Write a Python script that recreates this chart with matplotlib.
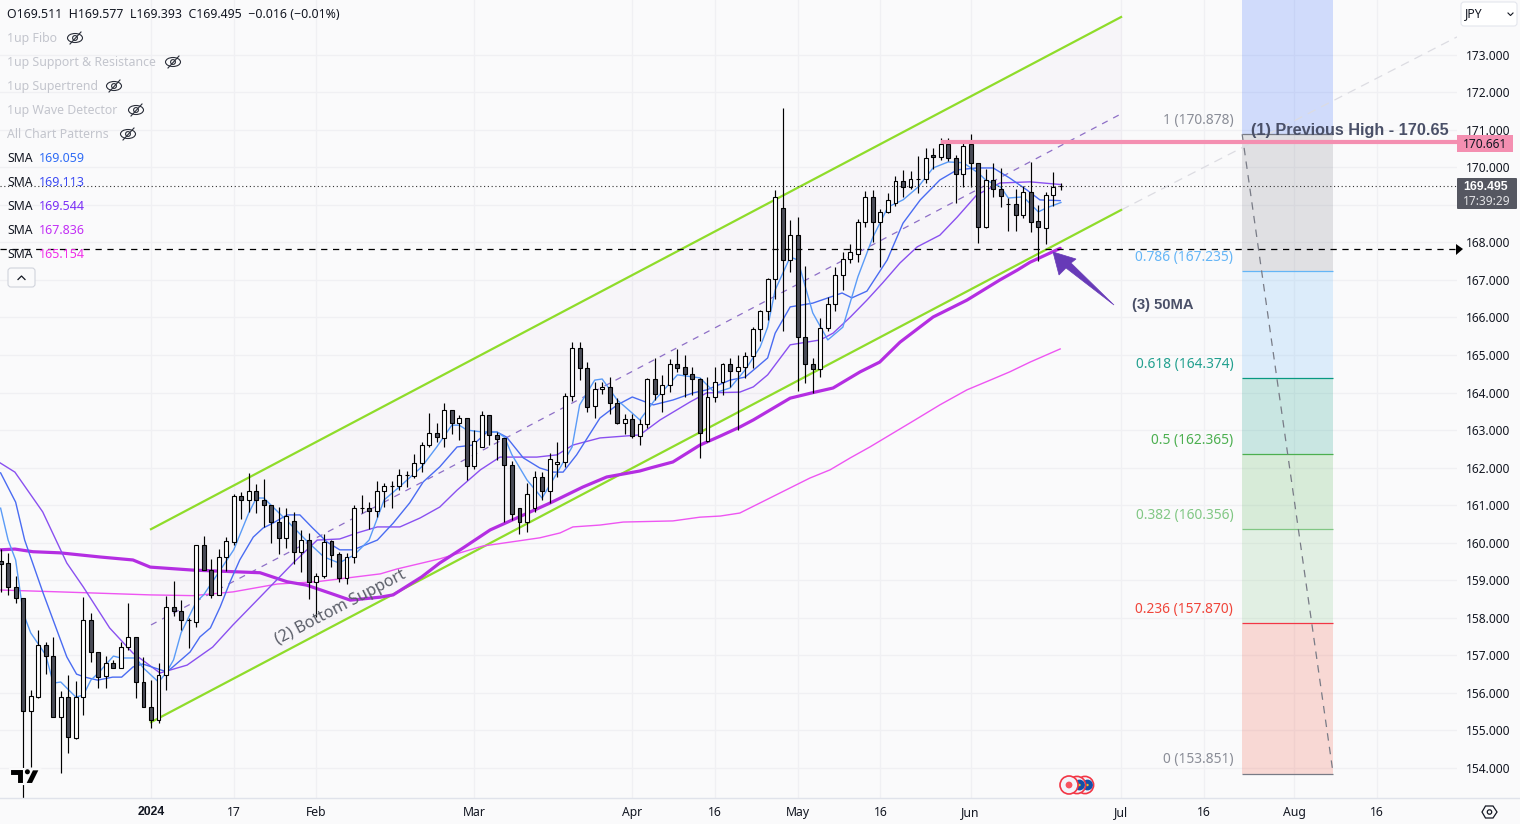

import matplotlib
matplotlib.use("Agg")
import matplotlib.pyplot as plt
from matplotlib.patches import Polygon, Circle, Ellipse, FancyBboxPatch, Rectangle

plt.rcParams['font.family'] = ['Noto Sans', 'DejaVu Sans']

# candles, first bar is 20 bars before 1 Jan 2024
bar_start = -20
opens = [159.51, 159.45, 158.83, 158.52, 155.53, 155.9, 157.27, 156.97, 155.35, 155.9,
         154.8, 155.9, 157.93, 157.08, 156.44, 156.79, 156.66, 157.21, 157.48, 156.3,
         155.62, 155.29, 156.48, 158.28, 158.19, 157.93, 157.9, 159.93, 159.28, 158.6,
         159.61, 160.03, 161.24, 161.13, 161.37, 161.15, 161.0, 160.54, 160.13, 160.57,
         159.75, 160.06, 158.95, 159.1, 160.04, 159.69, 159.07, 159.61, 160.92, 160.92,
         160.85, 161.38, 161.5, 161.5, 161.79, 161.77, 162.11, 162.59, 162.91, 162.78,
         163.53, 163.2, 163.31, 162.03, 162.54, 163.39, 162.88, 162.79, 162.06, 160.92,
         160.54, 160.92, 161.74, 161.38, 162.1, 162.16, 163.92, 165.18, 164.64, 163.63,
         164.08, 164.14, 163.73, 163.2, 163.29, 162.84, 163.15, 164.35, 163.97, 164.2,
         164.75, 164.67, 164.5, 164.37, 162.71, 163.87, 164.27, 164.75, 164.57, 164.69,
         164.96, 165.68, 166.18, 167.01, 168.91, 167.52, 168.19, 165.47, 164.75, 164.62,
         165.71, 166.35, 167.12, 167.55, 167.7, 168.53, 169.2, 168.53, 168.82, 169.06,
         169.62, 169.47, 169.68, 169.68, 170.32, 170.26, 170.62, 170.24, 169.81, 170.63,
         170.12, 168.41, 169.66, 169.41, 169.01, 169.01, 168.74, 169.35, 168.56, 168.39,
         169.27, 169.511]
highs = [159.83, 159.72, 159.1, 158.52, 156.07, 157.67, 157.35, 157.48, 156.05, 156.48,
         156.32, 158.55, 158.12, 157.1, 156.97, 156.88, 157.35, 158.39, 157.48, 156.95,
         156.34, 156.79, 158.58, 158.98, 158.48, 157.99, 159.93, 160.17, 159.57, 159.83,
         160.14, 161.3, 161.36, 161.85, 161.56, 161.7, 161.0, 160.96, 160.92, 160.83,
         160.34, 160.25, 159.18, 160.23, 160.07, 159.75, 159.72, 161.0, 161.27, 161.08,
         161.64, 161.58, 161.64, 161.95, 161.91, 162.35, 162.67, 163.45, 163.2, 163.71,
         163.53, 163.4, 163.31, 163.0, 163.51, 163.39, 162.96, 162.79, 162.18, 160.92,
         161.58, 161.92, 161.87, 162.38, 162.67, 163.98, 165.34, 165.34, 164.8, 164.29,
         164.29, 164.41, 163.85, 163.43, 163.42, 163.29, 164.38, 164.91, 164.46, 164.89,
         165.16, 165.0, 164.69, 164.38, 164.42, 164.69, 164.79, 164.92, 165.0, 165.08,
         165.74, 166.21, 167.06, 169.39, 171.57, 168.6, 168.67, 167.37, 164.91, 165.98,
         166.55, 167.35, 167.73, 167.95, 168.63, 169.37, 169.39, 168.9, 169.3, 169.76,
         169.93, 169.9, 170.3, 170.5, 170.5, 170.79, 170.79, 170.32, 170.68, 170.88,
         170.12, 169.95, 170.1, 169.98, 169.17, 169.41, 169.49, 170.13, 168.99, 169.34,
         169.88, 169.577]
lows = [158.69, 158.6, 158.39, 153.2, 154.03, 155.87, 156.5, 155.35, 153.87, 154.4,
        154.76, 155.4, 156.81, 156.14, 156.14, 156.66, 156.66, 157.14, 155.86, 155.62,
        155.07, 155.2, 156.08, 158.05, 157.67, 157.19, 157.76, 159.28, 158.53, 158.6,
        159.24, 159.94, 160.63, 160.83, 160.78, 160.43, 159.98, 159.7, 159.85, 159.42,
        159.22, 158.49, 158.03, 159.05, 159.36, 158.96, 158.9, 159.45, 160.78, 160.36,
        160.69, 160.96, 160.93, 161.4, 161.49, 161.71, 161.89, 162.54, 162.67, 162.55,
        162.89, 162.73, 161.67, 161.96, 162.54, 162.6, 162.2, 160.56, 160.6, 160.22,
        160.29, 160.81, 161.13, 161.06, 161.76, 162.02, 163.78, 164.33, 163.47, 163.31,
        163.95, 163.43, 163.15, 162.89, 162.79, 162.6, 163.06, 163.8, 163.48, 164.02,
        164.55, 163.89, 163.93, 162.25, 162.67, 163.75, 163.93, 164.15, 163.0, 164.39,
        164.64, 165.37, 165.93, 166.48, 165.65, 167.22, 164.05, 164.24, 164.0, 164.42,
        165.64, 166.17, 166.73, 167.44, 167.48, 168.42, 168.02, 167.33, 168.77, 168.97,
        169.21, 169.41, 169.3, 169.58, 169.94, 170.2, 170.17, 169.05, 169.46, 169.48,
        167.97, 168.38, 169.21, 168.94, 168.3, 168.3, 168.64, 168.28, 167.5, 167.95,
        168.97, 169.393]
closes = [159.44, 158.83, 158.52, 155.53, 155.93, 157.27, 156.97, 155.35, 155.9, 154.82,
          155.9, 157.93, 157.08, 156.43, 156.79, 156.66, 157.21, 157.48, 156.3, 155.62,
          155.29, 156.48, 158.28, 158.19, 157.93, 157.94, 159.93, 159.28, 158.6, 159.61,
          160.04, 161.24, 161.13, 161.37, 161.15, 161.0, 160.54, 160.13, 160.72, 159.75,
          160.06, 158.95, 159.1, 160.01, 159.68, 159.07, 159.61, 160.92, 160.93, 160.85,
          161.38, 161.5, 161.51, 161.79, 161.8, 162.11, 162.59, 162.91, 162.82, 163.53,
          163.2, 163.31, 162.03, 162.7, 163.39, 162.88, 162.77, 162.06, 160.76, 160.54,
          161.31, 161.74, 161.38, 162.24, 162.16, 163.92, 165.18, 164.64, 163.62, 164.08,
          164.14, 163.73, 163.2, 163.29, 162.84, 163.15, 164.35, 163.97, 164.2, 164.75,
          164.66, 164.5, 164.37, 162.93, 163.87, 164.27, 164.75, 164.57, 164.69, 164.96,
          165.68, 166.18, 167.01, 169.21, 167.52, 168.19, 165.47, 164.75, 164.62, 165.71,
          166.36, 167.12, 167.55, 167.73, 168.53, 169.2, 168.53, 168.82, 169.14, 169.62,
          169.47, 169.68, 169.69, 170.24, 170.26, 170.62, 170.24, 169.81, 170.56, 170.12,
          168.41, 169.66, 169.41, 169.24, 169.02, 168.74, 169.35, 168.55, 168.41, 169.27,
          169.48, 169.495]

# moving averages
sma1_x = [-20, -19, -18, -17, -16, -14, -13, -12, -10, -9, -8, -7, -5, -4, -2, -1, 1, 2, 3, 4, 6, 7, 11, 13, 14, 15,
          18, 21, 23, 25, 27, 29, 30, 31, 33, 36, 38, 40, 41, 42, 44, 46, 47, 48, 50, 52, 54, 56, 57, 59, 60, 62,
          64, 65, 67, 70, 73, 75, 77, 79, 81, 82, 83, 85, 86, 88, 90, 92, 94, 96, 98, 100, 102, 104, 106, 108, 110,
          111, 113, 114, 116, 118, 119, 121]
sma1_y = [160.92, 160.07, 159.54, 158.13, 157.6, 157.01, 156.26, 156.29, 155.89, 155.94, 156.34, 156.53, 156.98,
          156.93, 156.93, 156.66, 156.29, 156.53, 156.88, 157.6, 158.42, 158.61, 159.81, 160.79, 161.19, 161.19,
          160.6, 159.99, 159.62, 159.46, 159.67, 160.07, 160.6, 161.14, 161.48, 162.02, 162.55, 163.13, 163.13,
          163.0, 162.95, 162.95, 162.81, 162.34, 161.67, 161.19, 161.86, 162.55, 163.67, 164.33, 164.36, 163.8,
          163.45, 163.27, 163.8, 164.47, 164.39, 163.99, 164.12, 164.6, 165.21, 165.74, 166.73, 167.61, 167.53,
          166.12, 165.4, 165.74, 167.08, 168.14, 168.94, 169.13, 169.47, 169.98, 170.14, 170.12, 169.85, 169.66,
          169.47, 169.18, 169.21, 168.81, 168.91, 169.06]
sma2_x = [-20, -18, -16.8, -14.4, -11.2, -9.9, -8.8, -7.1, -5.1, -3.9, -2.4, -1.1, 2.1, 2.9, 5.2, 6.5, 7.9, 9.2, 10.5,
          11.8, 13.6, 14.9, 16.2, 18.1, 19.8, 21.5, 23.4, 25.1, 26.9, 30.1, 32.2, 34.4, 36.2, 38.4, 40.7, 42.8, 44.7,
          46, 47.3, 49.5, 51.7, 53.5, 54.8, 56.6, 59.7, 62, 64, 66.8, 69.4, 72.1, 73.9, 77, 79, 80.6, 82, 83, 85,
          88, 91.9, 93.2, 95.2, 97.9, 100, 102.3, 104.9, 107.2, 109.8, 112, 114.2, 116.5, 118.2, 120.9]
sma2_y = [161.86, 161.08, 160.07, 158.69, 156.96, 156.5, 156.42, 156.34, 156.42, 156.42, 156.69, 156.77, 156.56,
          156.69, 157.09, 157.49, 157.73, 158.29, 158.95, 159.54, 160.15, 160.39, 160.52, 160.74, 160.74, 160.39,
          160.02, 159.81, 159.81, 160.07, 160.52, 161.06, 161.62, 162.02, 162.55, 162.6, 162.95, 162.95, 162.81,
          162.26, 161.99, 161.88, 161.88, 162.34, 163.32, 163.67, 163.88, 163.67, 163.8, 163.99, 164.07, 164.33,
          164.41, 164.68, 164.92, 165.58, 166.28, 166.38, 166.65, 166.52, 166.7, 167.53, 168.51, 169.13, 169.66,
          169.93, 169.98, 169.98, 169.71, 169.39, 169.13, 169.11]
sma3_x = [-20.1, -18.1, -14.4, -11.2, -9, -5.5, -2.4, 1.2, 4.8, 8.2, 10.9, 14.5, 18.9, 22.1, 25.1, 27.4, 30.1, 33.1,
          35.8, 38.4, 40.7, 43.8, 46.4, 51.3, 54, 56.1, 59.7, 65, 67.7, 71.7, 73.9, 78.3, 80.1, 82, 85, 89, 90.7, 93,
          95.2, 97.3, 99.6, 101.9, 104.9, 107.2, 109.8, 112.9, 116.9, 120.9]
sma3_y = [162.13, 161.88, 160.82, 159.46, 158.82, 157.73, 157.06, 156.53, 156.74, 157.22, 157.81, 158.55, 159.46,
          160.07, 160.1, 160.26, 160.42, 160.42, 160.66, 160.95, 161.4, 161.94, 162.28, 162.28, 162.34, 162.6,
          162.79, 162.87, 163.27, 163.75, 163.99, 164.01, 164.15, 164.47, 165.27, 165.4, 165.58, 166.01,
          166.46, 166.92, 167.45, 167.88, 168.19, 168.67, 169.26, 169.58, 169.61, 169.54]
sma4_x = [-20.1, -18.1, -15.7, -12.1, -6.8, -2.4, -0.1, 5.6, 14.5, 18.1, 20.7, 24.2, 26.5, 30.5, 32.2, 36, 38.4, 41.5,
          45.1, 53.1, 57.4, 60.6, 65, 66.4, 69.4, 73, 75.7, 78.3, 80.1, 85, 88.3, 90.7, 94.3, 96.9, 99.6, 104, 108.5,
          112.9, 115.2, 116.9, 120.9]
sma4_y = [159.81, 159.83, 159.76, 159.73, 159.62, 159.54, 159.35, 159.27, 159.2, 158.96, 158.87, 158.63, 158.47,
          158.55, 158.61, 159.09, 159.46, 159.86, 160.34, 161.06, 161.48, 161.75, 161.91, 161.99, 162.15, 162.6,
          162.84, 163.08, 163.27, 163.85, 164.01, 164.12, 164.55, 164.81, 165.34, 166.01, 166.46, 167.0, 167.26,
          167.47, 167.84]
sma5_x = [-20.1, -12.1, -0.1, 5.6, 10.9, 16.8, 22, 30.5, 32.7, 38.4, 44.1, 51.7, 54.4, 56.1, 59.7, 62.8, 69.4, 73, 75.7,
          78.3, 85, 87.6, 90.3, 93, 95.6, 101.6, 104.9, 108.5, 111.6, 114.2, 116.9, 120.9]
sma5_y = [158.74, 158.69, 158.61, 158.59, 158.69, 158.9, 158.96, 159.17, 159.3, 159.57, 159.91, 160.13, 160.26, 160.42,
          160.47, 160.55, 160.58, 160.68, 160.71, 160.79, 161.46, 161.72, 161.94, 162.26, 162.55, 163.27, 163.67,
          164.07, 164.33, 164.55, 164.81, 165.16]

# channel
channel_x = [0, 129]
channel_upper = [160.36, 174.0]
channel_mid = [157.81, 171.42]
channel_lower = [155.22, 168.86]
channel_ext_x = [129, 173.67]
channel_ext_y = [168.86, 173.47]

# fib retracement
fib_x = [145.1, 157.2]
fib_levels = [170.878, 167.235, 164.374, 162.365, 160.356, 157.870, 153.851]
fib_names = ['1', '0.786', '0.618', '0.5', '0.382', '0.236', '0']
fib_colors = ['#787b86', '#64b5f6', '#089981', '#4caf50', '#81c784', '#f23645', '#787b86']
fib_fills = ['#787b86', '#64b5f6', '#089981', '#4caf50', '#81c784', '#f0503a']
fib_text = ['#8a8d97', '#64b5f6', '#22a08f', '#4caf50', '#81c784', '#f0453a', '#8a8d97']

prev_high = 170.661
prev_high_start = 105
last_price = 169.495
dash_level = 167.82

# the 169 label sits under the last price tag in the reference
price_ticks = [p for p in range(154, 174) if p != 169]
date_ticks = [0, 11, 22, 43, 64, 75, 86, 97, 109, 129, 140, 152, 163]
date_labels = ['2024', '17', 'Feb', 'Mar', 'Apr', '16', 'May', '16', 'Jun', 'Jul', '16', 'Aug', '16']

legend_hidden = ['1up Fibo', '1up Support & Resistance', '1up Supertrend', '1up Wave Detector', 'All Chart Patterns']
legend_eye_x = [75, 173, 114, 136, 128]
sma_values = ['169.059', '169.113', '169.544', '167.836', '165.154']
sma_colors = ['#2f6cf6', '#3d4cf5', '#7b2ff7', '#c22ff5', '#f030e8']

bg = '#fafafb'
txt = '#131722'
bold_font = ['Liberation Sans', 'DejaVu Sans']

fig = plt.figure(figsize=(15.2, 8.24), dpi=100, facecolor=bg)
ax = fig.add_axes([0, 26 / 824, 1457 / 1520, 798 / 824], facecolor=bg)
ax.set_xlim(-20.08, 173.67)
ax.set_ylim(153.201, 174.453)
for s in ax.spines.values():
    s.set_visible(False)
ax.set_yticks(price_ticks)
ax.set_yticklabels(['%.3f' % p for p in price_ticks], fontsize=8.6, color=txt)
ax.yaxis.tick_right()
ax.set_xticks(date_ticks)
ax.set_xticklabels(date_labels, fontsize=8.8, color=txt)
ax.get_xticklabels()[0].set_fontweight('bold')
ax.get_xticklabels()[0].set_family(bold_font)
ax.tick_params(axis='both', length=0)
ax.tick_params(axis='y', pad=6.5)
ax.tick_params(axis='x', pad=6)
ax.grid(True, color='#f0f0f3', lw=0.9, zorder=0)
ax.axhline(169, color='#f0f0f3', lw=0.9, zorder=0)
ax.set_axisbelow(True)

# channel
ax.fill_between(channel_x, channel_lower, channel_upper, color='#7b2fb0', alpha=0.025, lw=0, zorder=1)
ax.plot(channel_x, channel_upper, color='#8fdc2a', lw=1.6, zorder=3)
ax.plot(channel_x, channel_lower, color='#8fdc2a', lw=1.6, zorder=3)
ax.plot(channel_x, channel_mid, color='#8e6fc7', lw=0.9, ls=(0, (5, 5)), zorder=2)
ax.plot(channel_ext_x, channel_ext_y, color='#dcdce2', lw=0.9, ls=(0, (7, 5)), zorder=2)

# fib boxes
ax.fill_between(fib_x, fib_levels[0], 174.453, color='#2962ff', alpha=0.2, lw=0, zorder=1)
for i in range(len(fib_fills)):
    ax.fill_between(fib_x, fib_levels[i + 1], fib_levels[i], color=fib_fills[i], alpha=0.2, lw=0, zorder=1)
for i in range(len(fib_levels)):
    ax.plot(fib_x, [fib_levels[i], fib_levels[i]], color=fib_colors[i], lw=0.9, zorder=2, solid_capstyle='butt')
    ax.annotate('%s (%.3f)' % (fib_names[i], fib_levels[i]), xy=(fib_x[0], fib_levels[i]),
                xytext=(-6.5, 9.8), textcoords='offset points', ha='right', va='center',
                fontsize=9.9, color=fib_text[i])
ax.plot([fib_x[0], fib_x[1]], [fib_levels[0], fib_levels[-1]], color='#787b86', lw=0.9, ls=(0, (6, 5)), zorder=2)

# moving averages
ax.plot(sma5_x, sma5_y, color='#ee55f2', lw=1.0, zorder=3)
ax.plot(sma4_x, sma4_y, color='#b42ee2', lw=2.3, zorder=3, solid_capstyle='round')
ax.plot(sma3_x, sma3_y, color='#8a50f0', lw=1.0, zorder=3)
ax.plot(sma2_x, sma2_y, color='#4a6cf2', lw=1.0, zorder=3)
ax.plot(sma1_x, sma1_y, color='#5a9bf7', lw=1.0, zorder=3)

# candles
xs = [bar_start + i for i in range(len(opens))]
ax.vlines(xs, lows, highs, color='black', lw=0.85, zorder=4)
for i in range(len(opens)):
    up = closes[i] >= opens[i]
    ax.bar(xs[i], abs(closes[i] - opens[i]), bottom=min(opens[i], closes[i]), width=0.52,
           facecolor='white' if up else '#4a4c57', edgecolor='black', lw=0.8, zorder=5)

# horizontal lines
ax.axhline(last_price, color='#333333', lw=0.8, ls=(0, (1, 2.4)), zorder=6)
ax.axhline(dash_level, color='black', lw=0.9, ls=(0, (5, 4.5)), zorder=6)
ax.plot([prev_high_start, 173.67], [prev_high, prev_high], color='#f48fb1', lw=3.0, zorder=6, solid_capstyle='butt')

# overlay in figure pixels for the text and small widgets
ov = fig.add_axes([0, 0, 1, 1], facecolor='none')
ov.set_xlim(0, 1520)
ov.set_ylim(824, 0)
ov.axis('off')

ov.plot([0, 1520], [798, 798], color='#e0e3eb', lw=1)
ov.text(7, 14, 'O169.511  H169.577  L169.393  C169.495  \u22120.016 (\u22120.01%)', fontsize=8.9, color=txt, va='center')

for i, name in enumerate(legend_hidden):
    y = 38 + 24 * i
    ov.text(7, y, name, fontsize=8.9, color='#c3c5cd', va='center')
    ex = legend_eye_x[i]
    ov.add_patch(Ellipse((ex, y), 15, 9, fill=False, ec='#2a2e39', lw=0.8))
    ov.add_patch(Circle((ex, y), 2.4, fill=False, ec='#2a2e39', lw=0.8))
    ov.plot([ex - 5, ex + 6], [y + 6, y - 6], color='#2a2e39', lw=0.8)
for i in range(5):
    y = 158 + 24 * i
    ov.text(7, y, 'SMA', fontsize=8.8, color=txt, va='center')
    ov.text(39, y, sma_values[i], fontsize=9.0, color=sma_colors[i], va='center')

ov.add_patch(FancyBboxPatch((8, 268), 27, 19, boxstyle='round,pad=0,rounding_size=3', fc=bg, ec='#d0d3dc', lw=0.8))
ov.plot([18, 21.5, 25], [279.5, 276, 279.5], color=txt, lw=0.9)

ov.text(1350, 130, '(1) Previous High - 170.65', fontsize=11.7, fontweight='bold', family=bold_font, color='#4a5068',
        ha='center', va='center', zorder=8)
ov.text(1163, 305, '(3) 50MA', fontsize=10.6, fontweight='bold', family=bold_font, color='#4a5068', ha='center', va='center')
ov.text(341, 607, '(2) Bottom Support', fontsize=11.6, color='#5a5d68', ha='center', va='center',
        rotation=27.5, rotation_mode='anchor')

# purple arrow
ov.add_patch(Polygon([(1053, 252), (1059, 275), (1066, 268), (1114, 305), (1071, 263), (1076, 259)],
                     closed=True, fc='#673ab7', ec='#673ab7', lw=0.5))

# tradingview logo
for shape in ([(10, 769.3), (24.3, 769.3), (24.3, 784), (16.7, 784), (16.7, 776), (10, 776)],
              [(40, 769.3), (32.7, 784), (25, 784), (32.3, 769.3)]):
    ov.add_patch(Polygon(shape, closed=True, fc='black', ec=bg, lw=1.5))
ov.add_patch(Circle((27.4, 771.8), 2.5, fc='black', ec='none'))

# event markers
for cx in [1085, 1077]:
    ov.add_patch(Circle((cx, 785), 8.6, fc='#f6f6fb', ec='#f23645', lw=1.2))
    ov.add_patch(Circle((cx + 2.5, 785), 5.4, fc='#1450a8', ec='none'))
    ov.add_patch(Circle((cx + 2.5, 785), 1.2, fc='#e8c020', ec='none'))
ov.add_patch(Circle((1069, 785), 9, fc='#f2f3fa', ec='#f23645', lw=1.2))
ov.add_patch(Circle((1069, 785), 3.4, fc='#f7525f', ec='none'))

# right side tags
ov.add_patch(Polygon([(1456, 244), (1463, 249), (1456, 255)], closed=True, fc='black', ec='none'))
ov.add_patch(Rectangle((1457, 135), 56, 17, fc='#f48fb1', ec='none', zorder=7))
ov.text(1485, 144, '170.661', fontsize=8.6, color=txt, ha='center', va='center', zorder=8)
ov.add_patch(FancyBboxPatch((1457, 178), 60, 31, boxstyle='round,pad=0,rounding_size=1', fc='#555761', ec='none', zorder=7))
ov.text(1486, 186.5, '169.495', fontsize=8.8, fontweight='bold', family=bold_font, color='white', ha='center', va='center', zorder=8)
ov.text(1487, 201, '17:39:29', fontsize=8.6, color='#e3e3e6', ha='center', va='center', zorder=8)
ov.add_patch(FancyBboxPatch((1461, 2), 56, 24, boxstyle='round,pad=0,rounding_size=3', fc='white', ec='#e4e6ed', lw=0.8, zorder=7))
ov.text(1465, 14, 'JPY', fontsize=8.8, color=txt, va='center', zorder=8)
ov.plot([1508, 1510.5, 1513], [13, 15.5, 13], color=txt, lw=0.8, zorder=8)

# settings icon
ov.add_patch(Polygon([(1482, 812), (1485.5, 806), (1493, 806), (1497, 812), (1493, 818), (1485.5, 818)],
                     closed=True, fill=False, ec=txt, lw=0.9))
ov.add_patch(Circle((1489.5, 812), 2.2, fill=False, ec=txt, lw=0.9))

fig.savefig('out.png', dpi=100, facecolor=bg)
